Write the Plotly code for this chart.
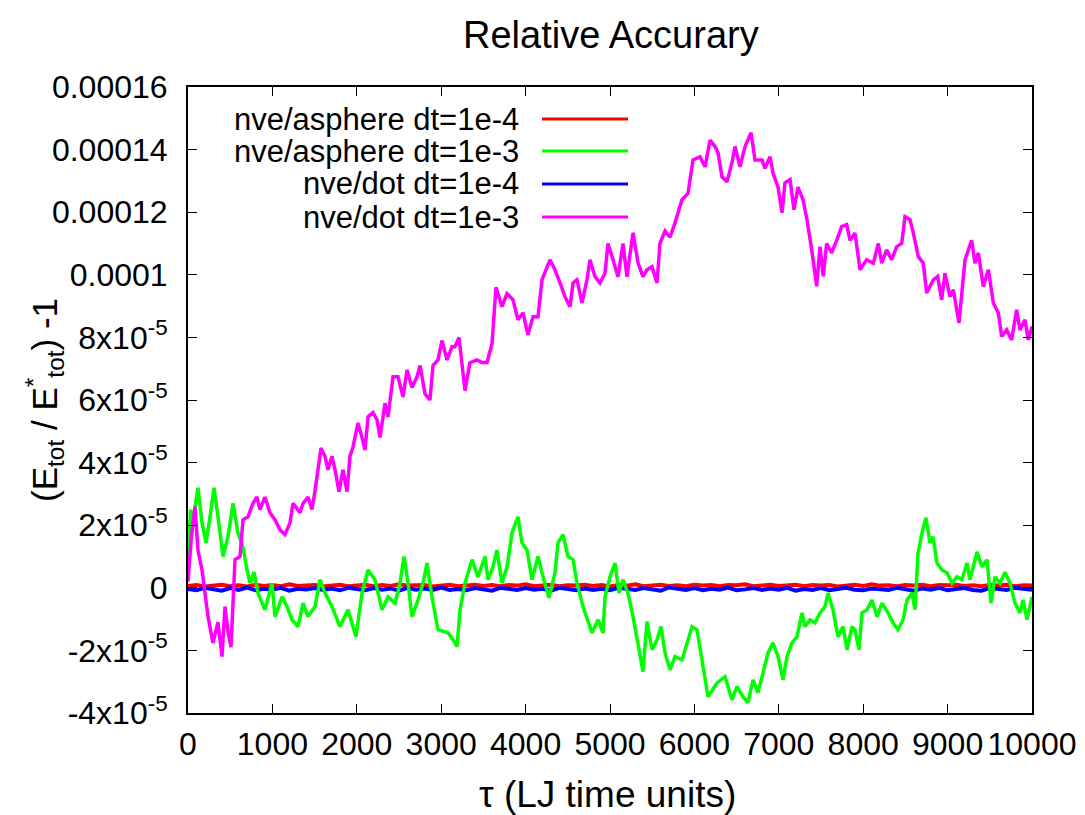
import plotly.graph_objects as go

# ---------------- data (values in units of 1e-6) ----------------
red_v = [0.6,0.9,0.4,0.8,1.0,0.5,0.8,0.4,1.0,0.6, 0.9,0.5,1.1,0.6,0.8,0.9,0.4,0.8,1.0,0.5,
         0.7,1.0,0.5,0.9,0.6,1.1,0.7,0.8,0.9,0.4, 0.8,1.0,0.5,0.7,1.0,0.6,0.9,0.5,0.9,0.7,
         1.1,0.5,0.8,1.0,0.5,0.8,0.7,1.0,0.6,0.9, 0.4,0.9,0.7,1.1,0.5,0.8,1.0,0.6,0.8,0.5,
         1.0,0.7,0.9,0.5,0.9,0.8,1.1,0.5,0.7,1.0, 0.6,0.8,1.0,0.5,0.9,0.7,0.9,0.4,0.8,1.0,
         0.6,1.1,0.7,0.8,0.5,0.9,0.7,1.0,0.5,0.9, 0.8,1.0,0.6,0.8,0.5,0.9,0.7,1.0,0.5,0.8,0.7]
blue_v = [-0.4,-0.8,0.0,-0.6,-0.9,-0.1,-0.7,0.1,-0.8,-0.3, -0.6,0.0,-0.9,-0.3,-0.5,-0.1,-0.7,-0.2,-0.8,0.0,
          -0.4,-0.8,-0.1,-0.6,-0.2,-0.9,0.0,-0.6,-0.2,-0.7, 0.1,-0.7,-0.4,-0.8,-0.1,-0.5,-0.9,0.0,-0.4,-0.7,
          -0.1,-0.6,-0.3,-0.9,0.0,-0.5,-0.8,-0.2,-0.7,-0.3, -0.8,0.0,-0.4,-0.7,-0.1,-0.6,-0.9,0.1,-0.4,-0.7,
          -0.1,-0.8,-0.3,-0.6,0.1,-0.8,-0.5,-0.1,-0.7,-0.2, -0.6,0.0,-0.9,-0.4,-0.7,-0.1,-0.8,-0.4,0.0,-0.6,
          -0.8,-0.2,-0.5,-0.7,0.0,-0.3,-0.9,-0.2,-0.6,0.0, -0.8,-0.4,-0.1,-0.7,-0.9,-0.1,-0.5,-0.7,0.0,-0.4,-0.6]
flat_t = list(range(0, 10001, 100))

green_t = [0,30,47,118,166,213,261,308,355,415,474,533,592,652,699,735,782,829,912,995,1031,1114,1173,1232,
           1303,1363,1422,1505,1564,1623,1706,1801,1896,1990,2062,2133,2215,2298,2370,2453,2512,2559,2607,
           2654,2725,2784,2832,2891,2962,3081,3140,3187,3223,3282,3365,3436,3519,3555,3614,3661,3720,3780,
           3839,3910,3957,4017,4076,4147,4206,4277,4348,4384,4443,4502,4562,4609,4680,4787,4858,4917,4941,
           5000,5059,5107,5154,5213,5273,5332,5391,5438,5498,5557,5604,5652,5711,5770,5853,5900,5972,6031,
           6066,6126,6161,6268,6363,6445,6505,6576,6635,6694,6754,6813,6872,6931,6991,7050,7097,7156,7216,
           7275,7310,7370,7429,7488,7547,7583,7642,7701,7761,7808,7867,7903,7950,7986,8045,8104,8164,8223,
           8294,8353,8412,8472,8519,8578,8614,8649,8697,8744,8791,8827,8874,8934,8993,9052,9111,9171,9230,
           9265,9325,9348,9408,9467,9514,9561,9621,9680,9739,9799,9858,9893,9941,10000]
green_v = [5,25,19.5,32,20.8,14.4,22.7,32,22.7,10,16.3,27,17.6,13,5.7,1.5,5,-1.7,-7,1.5,-9.2,-2.9,-6,-10.2,
           -12.4,-4.9,-9.2,-6,2.6,-1.7,-6,-12.4,-7,-15.6,-1.7,5.7,2.6,-7,-2.9,-4.9,1.5,10,1.5,
           -9.2,-3.9,1.5,7.9,-2.9,-13.4,-14.4,-16.6,-18.8,-7,1.5,9,3.5,10,2.6,6.7,12,1.5,6.7,
           17.6,22.7,14.4,12,2.6,10,3.5,-3.2,4.8,14.4,17,10,9,1.5,-6,-14.4,-10.2,-14.4,-2.9,
           3.5,7.9,-1.7,2.6,-1.7,-9.2,-17.6,-26.8,-10.8,-19.8,-16.6,-12.4,-20.8,-26.2,-22,-23,-18.8,-12.4,-13.4,
           -18.8,-29.4,-34.8,-30.4,-28.4,-35.8,-31.6,-34.8,-36.7,-29.4,-33.5,-27.2,-20.8,-17.6,-22,-29.4,-22,-17.6,-15.6,
           -8,-12.4,-10.2,-11.2,-8,-6,-1.7,-7,-15.6,-12.4,-19.8,-12.4,-13.4,-19.8,-8,-7,-3.9,-9.2,-4.9,
           -8,-11.2,-13.4,-10.2,-3.9,-1.7,-7,11,17.6,22.4,14.4,16.3,7.9,5.7,4.8,1.5,3.5,2.6,7.9,
           2.6,9,11.5,6.7,9,-4.9,3.5,1.5,5,1.5,-4.9,-8,-3.9,-10.2,-2.9]

magenta_t = [0,40,83,118,166,237,296,355,403,438,474,509,557,616,652,711,770,817,853,912,971,1031,1090,1149,
             1209,1244,1327,1363,1422,1469,1505,1540,1576,1623,1659,1706,1742,1789,1836,1884,1919,1955,2014,
             2062,2097,2133,2192,2239,2275,2334,2370,2429,2488,2547,2595,2654,2713,2749,2808,2867,2903,2962,
             3009,3069,3128,3163,3211,3282,3341,3424,3483,3543,3602,3649,3720,3780,3851,3910,3969,4028,4088,
             4147,4194,4289,4348,4408,4467,4526,4562,4609,4668,4727,4763,4822,4882,4941,4976,5036,5095,5154,
             5201,5273,5332,5391,5438,5498,5557,5592,5652,5711,5770,5853,5924,5983,6066,6126,6185,6244,6280,
             6327,6386,6445,6481,6540,6600,6671,6718,6801,6836,6896,6931,6991,7038,7073,7133,7180,7227,7287,
             7334,7390,7449,7488,7527,7567,7626,7686,7745,7804,7844,7903,7962,8041,8120,8179,8219,8278,8337,
             8397,8456,8495,8555,8594,8653,8712,8752,8831,8882,8930,8969,9028,9068,9135,9167,9206,9285,9325,
             9364,9423,9483,9542,9601,9641,9700,9759,9818,9858,9917,9956,10000]
magenta_v = [2,16,25.9,12,5.7,-9.2,-17.6,-11,-22,-6,-14,-19,9,10,21.7,22.7,27,29,25,29,24,21.7,18.5,17,
             20.8,27,24,27,29,25,31,38.7,44.7,42,37.7,42,37.7,30.7,37.7,30.7,42,45,52.7,
             48,44,54.6,56,53.7,48,59,54.6,67.4,67.4,61,69.6,64,67.4,71,62,60,71,72.8,
             79,72.8,77,77,80,63,71.9,72.8,72,72,78,96,89.8,94,92,85.6,87.9,80.8,86.6,
             86.6,98.4,104.8,101.6,97.4,93,89.8,97.4,98.4,91,98.4,104.8,99.4,97.4,100.6,110,104.8,99.4,110,
             99.4,113.4,103.8,99.4,101.6,102.6,97.4,110,114,112,116.6,124,126,136.7,137.7,134.5,143,141,139,
             131.3,129.7,135.8,141,134.5,141,145.4,136.7,136.7,134,137.7,132.6,128,119.8,129.4,130.4,120.8,128,124,
             117.6,108,96.3,109,99.5,110,107,111,115.4,116,111,113.4,101.6,104.8,103.7,110,103.7,108,104.8,
             109,110,118.6,117.6,113.3,105.8,103.7,94.2,98.4,99.5,92,100.5,93,95.2,84.6,93,104.8,111,103.7,
             107,96.3,101.6,91,87.8,80.3,82.4,79.2,88.8,82.4,85.6,79.2,83.5]

series_names = ["nve/asphere dt=1e-4", "nve/asphere dt=1e-3", "nve/dot dt=1e-4", "nve/dot dt=1e-3"]
series_colors = ["#ff0000", "#00ff00", "#0000ff", "#ff00ff"]

y_tickvals = [-4e-5, -2e-5, 0, 2e-5, 4e-5, 6e-5, 8e-5, 1e-4, 1.2e-4, 1.4e-4, 1.6e-4]
y_ticktext = ["-4x10<sup>-5</sup>", "-2x10<sup>-5</sup>", "0", "2x10<sup>-5</sup>", "4x10<sup>-5</sup>",
              "6x10<sup>-5</sup>", "8x10<sup>-5</sup>", "0.0001", "0.00012", "0.00014", "0.00016"]
x_tickvals = [0, 1000, 2000, 3000, 4000, 5000, 6000, 7000, 8000, 9000, 10000]
x_ticktext = ["0", "1000", "2000", "3000", "4000", "5000", "6000", "7000", "8000", "9000", "10000"]

SCALE = 1e-6

# ---------------- figure ----------------
FONT = "Liberation Sans, Arial, sans-serif"
fig = go.Figure()

def add(t, v, idx, width):
    fig.add_trace(go.Scatter(
        x=t, y=[val * SCALE for val in v], mode="lines",
        line=dict(color=series_colors[idx], width=width),
        name=series_names[idx], showlegend=False, hoverinfo="skip"))

add(flat_t, red_v, 0, 4)
add(flat_t, blue_v, 2, 4)
add(green_t, green_v, 1, 3.5)
add(magenta_t, magenta_v, 3, 3.5)

OFF = 8  # page body margin
W, H = 1085, 815
# plot area in screenshot pixels
SL, SR, ST, SB = 188, 1032, 87, 713
L, R, T, B = SL - OFF, SR - OFF, ST - OFF, SB - OFF
pw, ph = R - L, B - T

def px(xs):
    return (xs - SL) / pw

def py(ys):
    return (SB - ys) / ph

annotations = []
shapes = []
legend_rows = [119, 151, 184, 217]
for i, yp in enumerate(legend_rows):
    annotations.append(dict(
        x=px(521), y=py(yp), xref="paper", yref="paper", xanchor="right", yanchor="middle",
        text=series_names[i], showarrow=False, font=dict(family=FONT, size=31, color="black")))
    shapes.append(dict(
        type="line", xref="paper", yref="paper", x0=px(542), x1=px(628), y0=py(yp), y1=py(yp),
        line=dict(color=series_colors[i], width=3)))

annotations.append(dict(
    x=px(611), y=py(35), xref="paper", yref="paper", xanchor="center", yanchor="middle",
    text="Relative Accurary", showarrow=False, font=dict(family=FONT, size=38, color="black")))
annotations.append(dict(
    x=px(607), y=py(794), xref="paper", yref="paper", xanchor="center", yanchor="middle",
    text="τ (LJ time units)", showarrow=False, font=dict(family=FONT, size=37, color="black")))
annotations.append(dict(
    x=px(44), y=py(400), xref="paper", yref="paper", xanchor="center", yanchor="middle",
    textangle=-90,
    text="(E<sub>tot</sub> / E<sup>*</sup><sub>tot</sub>) -1", showarrow=False,
    font=dict(family=FONT, size=35, color="black")))

fig.update_layout(
    width=W, height=H,
    margin=dict(l=L, r=W - R, t=T, b=H - B, autoexpand=False),
    paper_bgcolor="white", plot_bgcolor="white",
    font=dict(family=FONT, size=32, color="black"),
    showlegend=False,
    annotations=annotations,
    shapes=shapes,
)
fig.update_xaxes(
    range=[0, 10000], tickvals=x_tickvals, ticktext=x_ticktext, ticks="inside", ticklen=9, tickwidth=1,
    tickcolor="black", showline=True, linewidth=2, linecolor="black", mirror="ticks",
    showgrid=False, zeroline=False, tickfont=dict(family=FONT, size=32), ticklabelstandoff=2)
fig.update_yaxes(
    range=[-4e-5, 1.6e-4], tickvals=y_tickvals, ticktext=y_ticktext, ticks="inside", ticklen=9,
    tickwidth=1, tickcolor="black", showline=True, linewidth=2, linecolor="black", mirror="ticks",
    showgrid=False, zeroline=False, tickfont=dict(family=FONT, size=32), ticklabelstandoff=12)

fig.write_html("out.html")
